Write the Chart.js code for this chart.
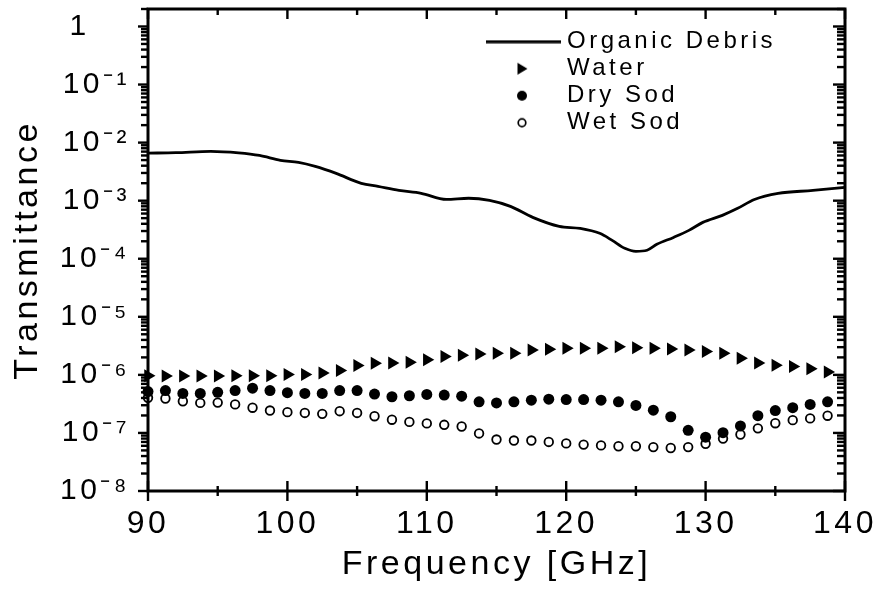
<!DOCTYPE html>
<html><head><meta charset="utf-8">
<script src="https://cdn.jsdelivr.net/npm/chart.js@4/dist/chart.umd.min.js"></script>
<style>html,body{margin:0;padding:0;background:#fff}#wrap{width:881px;height:590px}</style>
</head><body><div id="wrap"><canvas id="c" width="881" height="590"></canvas></div>
<script>
// ---- data ----
const organicFreq = [90, 92, 94.5, 96.5, 98, 99.5, 100.8, 102, 103.5, 105.3, 106.5, 108, 109.6, 111.4, 113, 114.5, 116, 117.6, 119.5, 121, 122.4, 123.3, 124.2, 125, 125.8, 126.5, 127.7, 128.8, 129.8, 131.2, 132.3, 133.5, 135.2, 137.7, 140];
const organicT = [6.6e-3, 6.7e-3, 7.06e-3, 6.65e-3, 6.0e-3, 4.94e-3, 4.56e-3, 3.89e-3, 2.95e-3, 1.99e-3, 1.76e-3, 1.50e-3, 1.34e-3, 1.05e-3, 1.10e-3, 1.01e-3, 7.97e-4, 5.16e-4, 3.61e-4, 3.33e-4, 2.74e-4, 2.07e-4, 1.51e-4, 1.34e-4, 1.40e-4, 1.77e-4, 2.33e-4, 3.08e-4, 4.23e-4, 5.58e-4, 7.37e-4, 1.05e-3, 1.34e-3, 1.50e-3, 1.69e-3];

const sampleFreq = [90, 91.25, 92.5, 93.75, 95, 96.25, 97.5, 98.75, 100, 101.25, 102.5, 103.75, 105, 106.25, 107.5, 108.75, 110, 111.25, 112.5, 113.75, 115, 116.25, 117.5, 118.75, 120, 121.25, 122.5, 123.75, 125, 126.25, 127.5, 128.75, 130, 131.25, 132.5, 133.75, 135, 136.25, 137.5, 138.75];
const waterT = [9.7e-7, 9.6e-7, 9.6e-7, 9.6e-7, 9.6e-7, 9.7e-7, 9.7e-7, 9.7e-7, 1.01e-6, 1.01e-6, 1.08e-6, 1.19e-6, 1.45e-6, 1.58e-6, 1.60e-6, 1.65e-6, 1.82e-6, 2.07e-6, 2.18e-6, 2.29e-6, 2.36e-6, 2.36e-6, 2.68e-6, 2.76e-6, 2.87e-6, 2.87e-6, 2.87e-6, 3.06e-6, 2.94e-6, 2.87e-6, 2.79e-6, 2.68e-6, 2.52e-6, 2.36e-6, 1.94e-6, 1.60e-6, 1.46e-6, 1.40e-6, 1.28e-6, 1.12e-6];
const drySodT = [5.15e-7, 5.36e-7, 4.80e-7, 4.80e-7, 5.0e-7, 5.36e-7, 5.89e-7, 5.36e-7, 4.94e-7, 4.80e-7, 4.80e-7, 5.36e-7, 5.36e-7, 4.67e-7, 4.20e-7, 4.37e-7, 4.61e-7, 4.48e-7, 4.30e-7, 3.43e-7, 3.29e-7, 3.43e-7, 3.66e-7, 3.81e-7, 3.76e-7, 3.76e-7, 3.66e-7, 3.43e-7, 2.98e-7, 2.47e-7, 1.90e-7, 1.11e-7, 8.45e-8, 1.01e-7, 1.32e-7, 1.98e-7, 2.43e-7, 2.72e-7, 3.10e-7, 3.43e-7];
const wetSodT = [4.03e-7, 3.92e-7, 3.51e-7, 3.29e-7, 3.33e-7, 3.10e-7, 2.72e-7, 2.43e-7, 2.28e-7, 2.21e-7, 2.13e-7, 2.37e-7, 2.21e-7, 1.94e-7, 1.69e-7, 1.55e-7, 1.46e-7, 1.38e-7, 1.29e-7, 9.8e-8, 7.7e-8, 7.4e-8, 7.4e-8, 7.0e-8, 6.6e-8, 6.3e-8, 6.1e-8, 5.9e-8, 5.9e-8, 5.7e-8, 5.5e-8, 5.7e-8, 6.5e-8, 8.0e-8, 9.4e-8, 1.20e-7, 1.47e-7, 1.66e-7, 1.78e-7, 1.98e-7];

const seriesLabels = ['Organic Debris', 'Water', 'Dry Sod', 'Wet Sod'];
const xTickLabels = ['90', '100', '110', '120', '130', '140'];
const yTickLabels = ['10\u207B\u2078', '10\u207B\u2077', '10\u207B\u2076', '10\u207B\u2075', '10\u207B\u2074', '10\u207B\u00B3', '10\u207B\u00B2', '10\u207B\u00B9', '1'];

// ---- styling ----
const FONT = "'Liberation Sans', Arial, Helvetica, sans-serif";
const pts = (xs, ys) => xs.map((x, i) => ({x: x, y: ys[i]}));

function icon(w, h, draw) {
  const c = document.createElement('canvas');
  c.width = w; c.height = h;
  const g = c.getContext('2d');
  g.fillStyle = '#000'; g.strokeStyle = '#000';
  draw(g, w, h);
  return c;
}
const legendIcons = [
  icon(78, 4, (g, w, h) => { g.fillRect(0, 0.5, w, 3); }),
  icon(14, 14, (g) => { g.beginPath(); g.moveTo(2.5, 1); g.lineTo(12.5, 7); g.lineTo(2.5, 13); g.closePath(); g.fill(); }),
  icon(12, 12, (g) => { g.beginPath(); g.arc(6, 6, 5, 0, Math.PI * 2); g.fill(); }),
  icon(12, 12, (g) => { g.lineWidth = 1.7; g.beginPath(); g.arc(6, 6, 3.8, 0, Math.PI * 2); g.stroke(); })
];

const framePlugin = {
  id: 'frame',
  beforeDraw(chart) { chart.ctx.letterSpacing = '3.5px'; },
  afterLayout(chart) {
    if (chart.legend) { chart.legend.left = 486; chart.legend.top = 26.7; }
  },
  afterDraw(chart) {
    const {ctx, chartArea: a, scales: {x, y}} = chart;
    ctx.save();
    ctx.strokeStyle = '#000';
    ctx.lineWidth = 2.4;
    const seg = (x1, y1, x2, y2) => { ctx.beginPath(); ctx.moveTo(x1, y1); ctx.lineTo(x2, y2); ctx.stroke(); };
    x.ticks.forEach(t => {
      const px = x.getPixelForValue(t.value);
      const major = Math.abs(t.value % 10) < 1e-9;
      const L = major ? 10 : 5;
      seg(px, a.bottom - L, px, a.bottom + L);
      seg(px, a.top, px, a.top + (major ? 10 : 6));
    });
    y.ticks.forEach(t => {
      if (t.value > y.max * 1.0001) return;
      const py = y.getPixelForValue(t.value);
      const e = Math.log10(t.value);
      const major = Math.abs(e - Math.round(e)) < 1e-9;
      seg(a.left - (major ? 10 : 7), py, a.left, py);
      seg(a.right - (major ? 12 : 8), py, a.right, py);
    });
    ctx.lineWidth = 3;
    ctx.strokeRect(a.left, a.top, a.right - a.left, a.bottom - a.top);
    ctx.restore();
  }
};

new Chart(document.getElementById('c'), {
  type: 'scatter',
  data: {
    datasets: [
      { label: seriesLabels[0], data: pts(organicFreq, organicT), showLine: true, borderColor: '#000', borderWidth: 2.8,
        pointRadius: 0, cubicInterpolationMode: 'monotone', backgroundColor: '#000' },
      { label: seriesLabels[1], data: pts(sampleFreq, waterT), pointStyle: 'triangle', rotation: 90, pointRadius: 7.5,
        backgroundColor: '#000', borderWidth: 0, clip: false },
      { label: seriesLabels[2], data: pts(sampleFreq, drySodT), pointStyle: 'circle', pointRadius: 5.5,
        backgroundColor: '#000', borderWidth: 0, clip: false },
      { label: seriesLabels[3], data: pts(sampleFreq, wetSodT), pointStyle: 'circle', pointRadius: 4.3,
        backgroundColor: '#fff', borderColor: '#000', borderWidth: 1.8, clip: false }
    ]
  },
  options: {
    responsive: false, animation: false, devicePixelRatio: 1,
    layout: { padding: { top: 9, right: 36, left: 0, bottom: 0 } },
    plugins: {
      tooltip: { enabled: false },
      legend: {
        position: 'chartArea', align: 'start',
        labels: {
          usePointStyle: true, pointStyleWidth: 66, boxHeight: 24, padding: 3, color: '#000',
          font: { family: FONT, size: 24 },
          generateLabels: (chart) => chart.data.datasets.map((ds, i) => ({
            text: ds.label, pointStyle: legendIcons[i], fillStyle: '#000', strokeStyle: '#000',
            lineWidth: 0, hidden: false, datasetIndex: i, fontColor: '#000'
          }))
        }
      }
    },
    scales: {
      x: {
        type: 'linear', min: 90, max: 140,
        grid: { display: false, drawTicks: false },
        border: { display: false },
        ticks: { stepSize: 5, autoSkip: false, maxRotation: 0, padding: 14, color: '#000',
          font: { family: FONT, size: 32 },
          callback: (v) => (Math.abs(v % 10) < 1e-9 ? xTickLabels[Math.round((v - 90) / 10)] : '') },
        title: { display: true, text: 'Frequency [GHz]', color: '#000', font: { family: FONT, size: 34 },
          padding: { top: 0, bottom: 5 } },
        afterFit: (s) => { s.height = 99; s.paddingLeft = 0; s.paddingRight = 0; }
      },
      y: {
        type: 'logarithmic', min: 1e-8, max: 2,
        grid: { display: false, drawTicks: false },
        border: { display: false },
        afterBuildTicks: (s) => {
          const t = [];
          for (let e = -8; e <= 0; e++) {
            for (let m = 1; m <= 9; m++) {
              const v = m * Math.pow(10, e);
              if (v <= s.max * 1.0001) t.push({ value: v, major: m === 1 });
            }
          }
          s.ticks = t;
        },
        ticks: { autoSkip: false, padding: 18, color: '#000', font: { family: FONT, size: 30 },
          callback: (v) => {
            const e = Math.log10(v);
            if (Math.abs(e - Math.round(e)) > 1e-9) return '';
            const lab = yTickLabels[Math.round(e) + 8];
            return lab === '1' ? lab + '\u2007\u2007' : lab;
          } },
        title: { display: true, text: 'Transmittance', color: '#000', font: { family: FONT, size: 34 },
          padding: { top: 7, bottom: 0 } },
        afterFit: (s) => { s.width = 148; s.paddingTop = 0; s.paddingBottom = 0; }
      }
    }
  },
  plugins: [framePlugin]
});
</script>
</body></html>
